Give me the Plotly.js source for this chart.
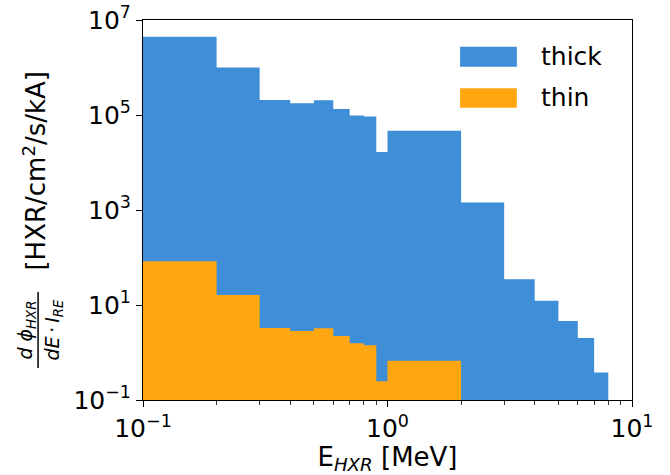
<!DOCTYPE html>
<html>
<head>
<meta charset="utf-8">
<script src="https://cdn.plot.ly/plotly-3.0.1.min.js"></script>
<style>html,body{margin:0;padding:0;background:#fff;}#chart{width:670px;height:475px;}</style>
</head>
<body>
<div id="chart"></div>
<script>
// Bin edges in MeV
const binEdges = [0.1, 0.2, 0.3, 0.4, 0.5, 0.6, 0.7, 0.8, 0.9, 1.0, 2.0, 3.0, 4.0, 5.0, 6.0, 7.0, 8.0];
// Series values per bin (null = empty bin)
const thickValues = [4.46e6, 1.0e6, 2.07e5, 1.76e5, 2.04e5, 1.34e5, 9.8e4, 9.3e4, 1.66e4, 4.67e4, 1.43e3, 34.7, 12.3, 4.6, 2.02, 0.38];
const thinValues  = [83, 16.2, 3.28, 2.84, 3.23, 2.22, 1.56, 1.42, 0.248, 0.67, null, null, null, null, null, null];
const seriesNames = ["thick", "thin"];
const seriesColors = ["#3e8fd8", "#ffa611"];
const yTickVals = [1e-1, 1e1, 1e3, 1e5, 1e7];
const yTickText = ["10<sup>\u22121</sup>", "10<sup>1</sup>", "10<sup>3</sup>", "10<sup>5</sup>", "10<sup>7</sup>"];
const xTickVals = [0.1, 1, 10];
const xTickText = ["10<sup>\u22121</sup>", "10<sup>0</sup>", "10<sup>1</sup>"];
const xMinorVals = [0.2,0.3,0.4,0.5,0.6,0.7,0.8,0.9,2,3,4,5,6,7,8,9];

const FLOOR = 1e-6; // below visible range, clipped by the axes
function stepPolygon(edges, vals) {
  const xs = [], ys = [];
  let last = 0;
  for (let i = 0; i < vals.length; i++) {
    if (vals[i] == null) break;
    if (i === 0) { xs.push(edges[0]); ys.push(FLOOR); }
    xs.push(edges[i]); ys.push(vals[i]);
    xs.push(edges[i+1]); ys.push(vals[i]);
    last = i + 1;
  }
  xs.push(edges[last]); ys.push(FLOOR);
  return {x: xs, y: ys};
}

const font = "DejaVu Sans, sans-serif";
const traces = [thickValues, thinValues].map((vals, k) => {
  const p = stepPolygon(binEdges, vals);
  return {
    type: "scatter", mode: "lines", x: p.x, y: p.y,
    fill: "toself", fillcolor: seriesColors[k],
    line: {width: 0, color: seriesColors[k]},
    name: seriesNames[k], showlegend: false, hoverinfo: "skip"
  };
});

// plot area geometry for paper coordinates
const L = 143.3, R = 631.7, T = 20, B = 400;
const px = v => (v - L) / (R - L);
const py = v => (B - v) / (B - T);

const shapes = [
  {type: "rect", xref: "paper", yref: "paper", x0: px(460), x1: px(516.7), y0: py(66.7), y1: py(46.7), fillcolor: seriesColors[0], line: {width: 0}},
  {type: "rect", xref: "paper", yref: "paper", x0: px(460), x1: px(516.7), y0: py(107.7), y1: py(88.3), fillcolor: seriesColors[1], line: {width: 0}},
  {type: "line", xref: "paper", yref: "paper", x0: px(38.5), x1: px(38.5), y0: py(292), y1: py(368), line: {width: 1.5, color: "#000"}}
];
const annotations = [
  {xref: "paper", yref: "paper", x: px(539), y: py(56.7), xanchor: "left", yanchor: "middle", text: seriesNames[0], showarrow: false, font: {family: font, size: 25, color: "#000"}},
  {xref: "paper", yref: "paper", x: px(539), y: py(98), xanchor: "left", yanchor: "middle", text: seriesNames[1], showarrow: false, font: {family: font, size: 25, color: "#000"}},
  {xref: "paper", yref: "paper", x: px(35), y: py(171), xanchor: "center", yanchor: "middle", textangle: -90, text: "[HXR/cm<sup>2</sup>/s/kA]", showarrow: false, font: {family: font, size: 26, color: "#000"}},
  {xref: "paper", yref: "paper", x: px(26), y: py(330), xanchor: "center", yanchor: "middle", textangle: -90, text: "<i>d</i> <i>\u03d5</i><sub><i>HXR</i></sub>", showarrow: false, font: {family: font, size: 19, color: "#000"}},
  {xref: "paper", yref: "paper", x: px(53), y: py(330), xanchor: "center", yanchor: "middle", textangle: -90, text: "<i>dE</i>\u2009\u00b7\u2009<i>I</i><sub><i>RE</i></sub>", showarrow: false, font: {family: font, size: 19, color: "#000"}}
];

const layout = {
  width: 670, height: 475,
  margin: {l: L, r: 670 - R, t: T, b: 475 - B, pad: 0},
  paper_bgcolor: "#fff", plot_bgcolor: "#fff",
  font: {family: font, size: 25, color: "#000"},
  showlegend: false,
  xaxis: {
    type: "log", range: [-1, 1], tickvals: xTickVals, ticktext: xTickText,
    ticks: "outside", ticklen: 6, tickwidth: 1, tickcolor: "#000",
    minor: {tickvals: xMinorVals, ticks: "outside", ticklen: 3.5, tickwidth: 0.8, tickcolor: "#000", showgrid: false},
    showline: true, linecolor: "#000", linewidth: 1, mirror: true, showgrid: false, zeroline: false,
    tickfont: {family: font, size: 25, color: "#000"},
    title: {text: "E<sub><i>HXR</i></sub> [MeV]", font: {family: font, size: 26, color: "#000"}, standoff: 4}
  },
  yaxis: {
    type: "log", range: [-1, 7], tickvals: yTickVals, ticktext: yTickText,
    ticks: "outside", ticklen: 6, tickwidth: 1, tickcolor: "#000",
    showline: true, linecolor: "#000", linewidth: 1, mirror: true, showgrid: false, zeroline: false,
    tickfont: {family: font, size: 25, color: "#000"}
  },
  shapes: shapes, annotations: annotations
};

Plotly.newPlot("chart", traces, layout, {staticPlot: true, displayModeBar: false});
</script>
</body>
</html>
